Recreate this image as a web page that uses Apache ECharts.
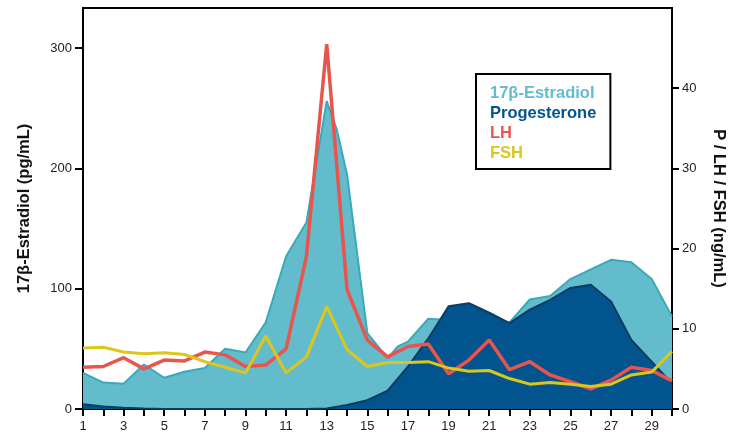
<!DOCTYPE html>
<html>
<head>
<meta charset="utf-8">
<script src="https://cdn.jsdelivr.net/npm/echarts@6/dist/echarts.min.js"></script>
<style>
html,body{margin:0;padding:0;background:#fff;}
#chart{width:740px;height:434px;}
</style>
</head>
<body>
<div id="chart"></div>
<script>
// Cycle day (x axis)
const days = [1,2,3,4,5,6,7,8,9,10,11,12,13,14,15,16,17,18,19,20,21,22,23,24,25,26,27,28,29,30];
// 17β-Estradiol (pg/mL, left axis) — sampled days incl. a half-day point
const e2Days = [1,2,3,4,5,6,7,8,9,10,11,12,13,13.5,14,15,16,16.5,17,18,19,20,21,22,23,24,25,26,27,28,29,30];
const e2Vals = [30,22,21,37,26,31,34,50,47,72,127,155,256,232,195,63,42,52,56,75,74,73,71,72,91,94,108,116,124,122,108,77];
// Progesterone (ng/mL, right axis)
const progVals = [0.6,0.3,0.15,0.05,0,0,0,0,0,0,0,0,0.05,0.5,1.1,2.3,5.3,8.8,12.8,13.2,12.0,10.7,12.4,13.6,15.1,15.5,13.4,8.6,5.9,3.2];
// LH (ng/mL, right axis)
const lhVals = [5.2,5.3,6.4,5.0,6.1,6.0,7.1,6.75,5.3,5.5,7.5,19.0,45.5,14.9,8.6,6.5,7.8,8.1,4.4,6.1,8.6,4.9,5.9,4.25,3.4,2.5,3.6,5.2,4.8,3.5];
// FSH (ng/mL, right axis)
const fshVals = [7.6,7.7,7.1,6.9,7.0,6.8,5.9,5.2,4.5,9.1,4.5,6.5,12.8,7.4,5.3,5.8,5.8,5.9,5.1,4.7,4.8,3.8,3.1,3.3,3.1,2.8,3.1,4.25,4.6,7.2];
// Tick labels
const leftTicks = [0,100,200,300];
const rightTicks = [0,10,20,30,40];
const seriesNames = ['17β-Estradiol','Progesterone','LH','FSH'];

const C_E2 = '#63bccb', C_E2_EDGE = '#3aa9ba';
const C_P = '#02548f', C_P_EDGE = '#0b3c66';
const C_LH = '#e8554d', C_FSH = '#dbc61e';

const pair = (xs, ys) => xs.map((x, i) => [x, ys[i]]);
const FONT = '"Liberation Sans", Arial, sans-serif';

const chart = echarts.init(document.getElementById('chart'), null, {renderer: 'canvas'});
chart.setOption({
  animation: false,
  backgroundColor: '#fff',
  grid: {left: 83, right: 68, top: 8, bottom: 25, show: true, borderColor: '#000', borderWidth: 2, backgroundColor: 'transparent'},
  legend: {
    orient: 'vertical',
    left: 476, top: 74,
    icon: 'none',
    itemWidth: 0, itemHeight: 14,
    itemGap: 3,
    padding: [11, 14, 7, 9],
    borderColor: '#000', borderWidth: 2,
    backgroundColor: '#fff',
    selectedMode: false,
    textStyle: {fontFamily: FONT, fontWeight: 'bold', fontSize: 16.5},
    data: [
      {name: seriesNames[0], textStyle: {color: C_E2}},
      {name: seriesNames[1], textStyle: {color: C_P}},
      {name: seriesNames[2], textStyle: {color: C_LH}},
      {name: seriesNames[3], textStyle: {color: C_FSH}}
    ]
  },
  xAxis: {
    type: 'value', min: 1, max: 30, interval: 1,
    axisLine: {lineStyle: {color: '#000', width: 2}},
    axisTick: {length: 7, lineStyle: {color: '#000', width: 2}},
    splitLine: {show: false},
    axisLabel: {
      color: '#222', fontFamily: FONT, fontSize: 13, margin: 11,
      formatter: v => (v % 2 === 1 ? String(v) : '')
    }
  },
  yAxis: [
    {
      type: 'value', min: 0, max: 1000/3, interval: 100, position: 'left',
      name: '17β-Estradiol (pg/mL)', nameLocation: 'middle', nameGap: 50, nameRotate: 90,
      nameTextStyle: {fontFamily: FONT, fontWeight: 'bold', fontSize: 16.5, color: '#111'},
      axisLine: {show: true, lineStyle: {color: '#000', width: 2}},
      axisTick: {show: true, length: 8, customValues: leftTicks, lineStyle: {color: '#000', width: 2}},
      axisLabel: {color: '#222', fontFamily: FONT, fontSize: 13, margin: 11, customValues: leftTicks},
      splitLine: {show: false}
    },
    {
      type: 'value', min: 0, max: 50, interval: 10, position: 'right',
      name: 'P / LH / FSH (ng/mL)', nameLocation: 'middle', nameGap: 38, nameRotate: -90,
      nameTextStyle: {fontFamily: FONT, fontWeight: 'bold', fontSize: 16.5, color: '#111'},
      axisLine: {show: true, lineStyle: {color: '#000', width: 2}},
      axisTick: {show: true, length: 7, customValues: rightTicks, lineStyle: {color: '#000', width: 2}},
      axisLabel: {color: '#222', fontFamily: FONT, fontSize: 13, margin: 10, customValues: rightTicks},
      splitLine: {show: false}
    }
  ],
  series: [
    {
      name: seriesNames[0], type: 'line', yAxisIndex: 0,
      data: pair(e2Days, e2Vals),
      symbol: 'none', color: C_E2,
      lineStyle: {color: C_E2_EDGE, width: 2},
      areaStyle: {color: C_E2, opacity: 1},
      z: 1
    },
    {
      name: seriesNames[1], type: 'line', yAxisIndex: 1,
      data: pair(days, progVals),
      symbol: 'none', color: C_P,
      lineStyle: {color: C_P_EDGE, width: 2},
      areaStyle: {color: C_P, opacity: 1},
      z: 2
    },
    {
      name: seriesNames[2], type: 'line', yAxisIndex: 1,
      data: pair(days, lhVals),
      symbol: 'none', color: C_LH,
      lineStyle: {color: C_LH, width: 3.5},
      z: 3
    },
    {
      name: seriesNames[3], type: 'line', yAxisIndex: 1,
      data: pair(days, fshVals),
      symbol: 'none', color: C_FSH,
      lineStyle: {color: C_FSH, width: 3},
      z: 4
    }
  ]
});
</script>
</body>
</html>
